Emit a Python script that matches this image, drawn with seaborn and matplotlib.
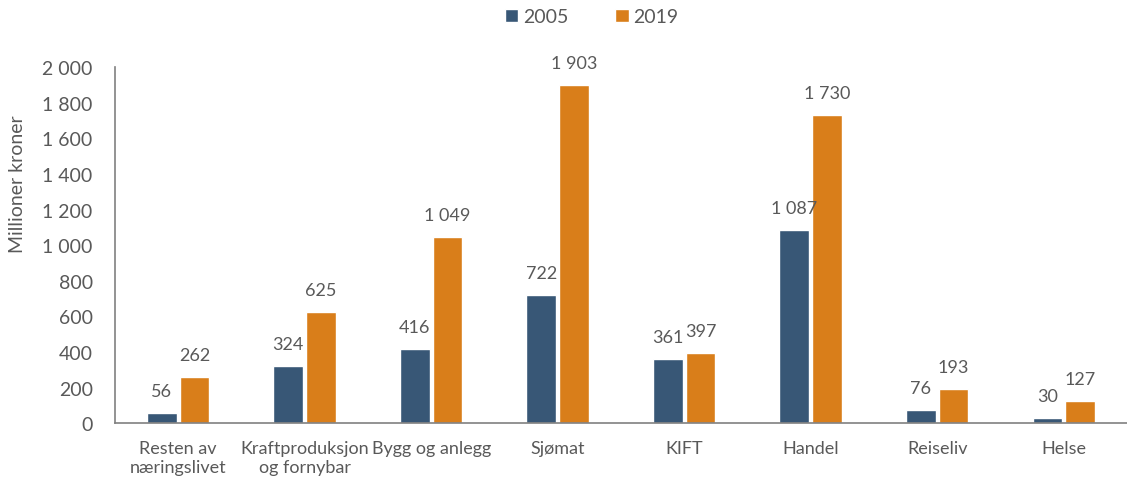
import matplotlib
matplotlib.use("Agg")
import matplotlib.pyplot as plt
import pandas as pd
import seaborn as sns

categories = ["Resten av\nnæringslivet", "Kraftproduksjon\nog fornybar", "Bygg og anlegg",
              "Sjømat", "KIFT", "Handel", "Reiseliv", "Helse"]
values_2005 = [56, 324, 416, 722, 361, 1087, 76, 30]
values_2019 = [262, 625, 1049, 1903, 397, 1730, 193, 127]
years = ["2005", "2019"]
y_ticks = list(range(0, 2001, 200))

df = pd.DataFrame({
    "category": categories * 2,
    "year": [years[0]] * len(categories) + [years[1]] * len(categories),
    "value": values_2005 + values_2019,
})

sns.set_style("white")
plt.rcParams["font.family"] = ["Lato", "DejaVu Sans"]
text_color = "#595959"

fig = plt.figure(figsize=(11.27, 4.81), dpi=100)
ax = fig.add_axes([0.102, 0.118, 0.898, 0.74])

sns.barplot(data=df, x="category", y="value", hue="year",
            palette=["#385776", "#D97E1A"], width=0.52, gap=0.1,
            saturation=1, ax=ax)


def fmt(v):
    return f"{int(v):,}".replace(",", " ")


for cont in ax.containers:
    ax.bar_label(cont, labels=[fmt(b.get_height()) for b in cont],
                 padding=10, fontsize=13, color=text_color)

ax.set_ylim(0, 2000)
ax.set_yticks(y_ticks)
ax.set_yticklabels([fmt(t) for t in y_ticks], fontsize=14, color=text_color)
ax.set_xlim(-0.5, len(categories) - 0.5)
ax.tick_params(axis="x", length=0, labelsize=13, labelcolor=text_color, pad=12)
ax.tick_params(axis="y", direction="in", length=5, color="#808080", width=1.2, pad=16)
ax.set_xlabel("")
ax.set_ylabel("Millioner kroner", fontsize=14, color=text_color)
ax.yaxis.set_label_coords(-0.088, 0.675)

for s in ["top", "right"]:
    ax.spines[s].set_visible(False)
for s in ["left", "bottom"]:
    ax.spines[s].set_color("#808080")
    ax.spines[s].set_linewidth(1.2)

handles, labels = ax.get_legend_handles_labels()
ax.get_legend().remove()
fig.legend(handles, labels, loc="center", bbox_to_anchor=(0.525, 0.963), ncol=2,
           frameon=False, fontsize=14, handlelength=0.7, handleheight=0.7,
           columnspacing=2.4, handletextpad=0.25, labelcolor=text_color)

fig.savefig("out.png", dpi=100)
